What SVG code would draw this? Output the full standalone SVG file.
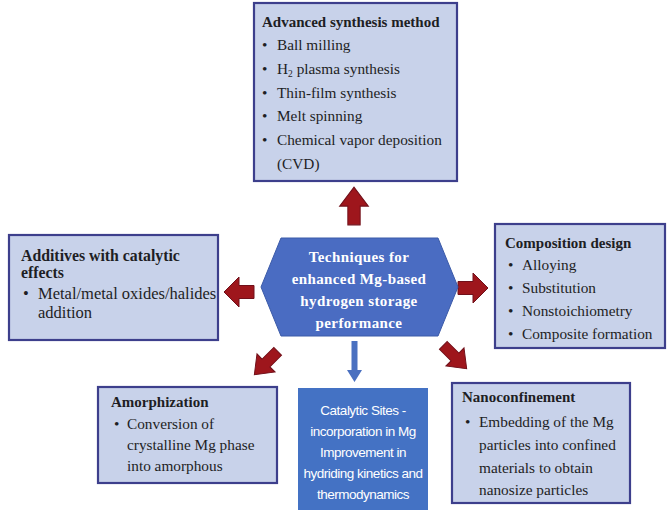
<svg xmlns="http://www.w3.org/2000/svg" width="667" height="510" viewBox="0 0 667 510">
<style>
.box{fill:#c8d2ea;stroke:#3d3f8c;stroke-width:2.2}
.t{font-family:"Liberation Serif","Times New Roman",serif;font-size:15.3px;fill:#1e1e24}
.b{font-weight:bold;font-size:15px}
.big{font-size:16.5px}
.bigb{font-size:15.8px}
.hx{font-family:"Liberation Serif","Times New Roman",serif;font-size:15px;font-weight:bold;fill:#ffffff;text-anchor:middle;letter-spacing:0.4px}
.cs{font-family:"Liberation Sans",Arial,sans-serif;font-size:13.5px;fill:#ffffff;text-anchor:middle;letter-spacing:-0.5px}
.arr{fill:#9e161c;stroke:#70101a;stroke-width:1}
</style>
<defs>
<path id="ra" d="M-15,-6.5 L0,-6.5 L0,-15 L15,0 L0,15 L0,6.5 L-15,6.5 Z"/>
</defs>
<rect width="667" height="510" fill="#ffffff"/>

<g id="connectors">
<use href="#ra" class="arr" transform="translate(354,206) rotate(-90) scale(1.25,0.95)"/>
<use href="#ra" class="arr" transform="translate(473,288)"/>
<use href="#ra" class="arr" transform="translate(239,292) rotate(180)"/>
<use href="#ra" class="arr" transform="translate(266,363) rotate(135) scale(1.1,0.85)"/>
<use href="#ra" class="arr" transform="translate(455,357) rotate(45) scale(1.1,0.85)"/>
<path d="M351.5,341 L357.5,341 L357.5,370 L362,370 L354.5,382 L347,370 L351.5,370 Z" fill="#4a70c0"/>
</g>

<g id="top">
<rect class="box" x="254" y="3" width="203" height="178"/>
<text class="t b" x="262" y="27">Advanced synthesis method</text>
<text class="t" x="262" y="50">•</text><text class="t" x="277" y="50">Ball milling</text>
<text class="t" x="262" y="74">•</text><text class="t" x="277" y="74">H<tspan font-size="9.5" dy="3">2</tspan><tspan dy="-3"> plasma synthesis</tspan></text>
<text class="t" x="262" y="98">•</text><text class="t" x="277" y="98">Thin-film synthesis</text>
<text class="t" x="262" y="121">•</text><text class="t" x="277" y="121">Melt spinning</text>
<text class="t" x="262" y="145">•</text><text class="t" x="277" y="145">Chemical vapor deposition</text>
<text class="t" x="277" y="169">(CVD)</text>
</g>

<g id="center">
<polygon points="261,287 281,238 438,238 458,287 438,336 281,336" fill="#4a6cc2" stroke="#3b5aa8" stroke-width="1"/>
<text class="hx" x="359" y="262">Techniques for</text>
<text class="hx" x="359" y="284">enhanced Mg-based</text>
<text class="hx" x="359" y="306">hydrogen storage</text>
<text class="hx" x="359" y="328">performance</text>
</g>

<g id="additives">
<rect class="box" x="9" y="235" width="209" height="105"/>
<text class="t b bigb" x="21" y="261">Additives with catalytic</text>
<text class="t b bigb" x="21" y="278">effects</text>
<text class="t big" x="23" y="299">•</text><text class="t big" x="38" y="299">Metal/metal oxides/halides</text>
<text class="t big" x="38" y="318">addition</text>
</g>

<g id="composition">
<rect class="box" x="495" y="224" width="170" height="124"/>
<text class="t b" x="505" y="248">Composition design</text>
<text class="t" x="508" y="270">•</text><text class="t" x="522" y="270">Alloying</text>
<text class="t" x="508" y="293">•</text><text class="t" x="522" y="293">Substitution</text>
<text class="t" x="508" y="316">•</text><text class="t" x="522" y="316">Nonstoichiometry</text>
<text class="t" x="508" y="339">•</text><text class="t" x="522" y="339">Composite formation</text>
</g>

<g id="amorphization">
<rect class="box" x="98" y="387" width="179" height="96"/>
<text class="t b" x="111" y="407">Amorphization</text>
<text class="t" x="114" y="429">•</text><text class="t" x="127" y="429">Conversion of</text>
<text class="t" x="127" y="450">crystalline Mg phase</text>
<text class="t" x="127" y="471">into amorphous</text>
</g>

<g id="catalytic">
<rect x="298" y="388" width="130" height="122" fill="#4472c4"/>
<text class="cs" x="363" y="415">Catalytic Sites -</text>
<text class="cs" x="363" y="436">incorporation in Mg</text>
<text class="cs" x="363" y="457">Improvement in</text>
<text class="cs" x="363" y="478">hydriding kinetics and</text>
<text class="cs" x="363" y="499">thermodynamics</text>
</g>

<g id="nanoconfinement">
<rect class="box" x="452" y="383" width="178" height="120"/>
<text class="t b" x="462" y="402">Nanoconfinement</text>
<text class="t" x="465" y="427">•</text><text class="t" x="479" y="427">Embedding of the Mg</text>
<text class="t" x="479" y="450">particles into confined</text>
<text class="t" x="479" y="473">materials to obtain</text>
<text class="t" x="479" y="495">nanosize particles</text>
</g>
</svg>
